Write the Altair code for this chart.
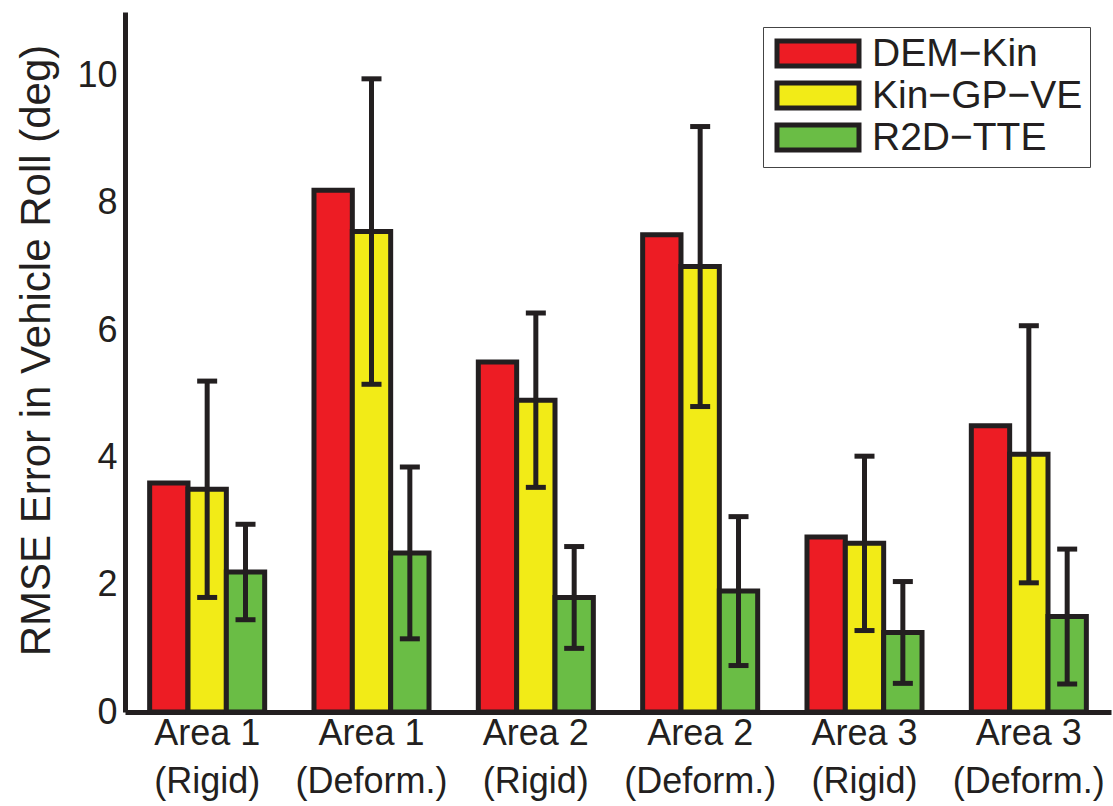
import altair as alt
import pandas as pd

# Terrain areas (two-line axis labels split on "|")
areas = [
    "Area 1|(Rigid)", "Area 1|(Deform.)",
    "Area 2|(Rigid)", "Area 2|(Deform.)",
    "Area 3|(Rigid)", "Area 3|(Deform.)",
]
methods = ["DEM−Kin", "Kin−GP−VE", "R2D−TTE"]
colors = ["#ED1C24", "#F2EB17", "#6ABD45"]

# RMSE of vehicle roll (deg) per method
dem_kin = [3.6, 8.2, 5.5, 7.5, 2.75, 4.5]
kin_gp_ve = [3.5, 7.55, 4.9, 7.0, 2.65, 4.05]
r2d_tte = [2.2, 2.5, 1.8, 1.9, 1.25, 1.5]

# Standard deviations (no error bar for DEM-Kin)
kin_gp_ve_err = [1.7, 2.4, 1.37, 2.2, 1.37, 2.02]
r2d_tte_err = [0.75, 1.35, 0.8, 1.17, 0.8, 1.06]

rows = []
for i, a in enumerate(areas):
    rows.append({"area": a, "method": methods[0], "rmse": dem_kin[i], "err": None})
    rows.append({"area": a, "method": methods[1], "rmse": kin_gp_ve[i], "err": kin_gp_ve_err[i]})
    rows.append({"area": a, "method": methods[2], "rmse": r2d_tte[i], "err": r2d_tte_err[i]})
df = pd.DataFrame(rows)

FONT = "Liberation Sans"
INK = "#231F20"

x_enc = alt.X(
    "area:N",
    sort=areas,
    scale=alt.Scale(paddingInner=0.3, paddingOuter=0.15),
    axis=alt.Axis(
        title=None,
        labelExpr="split(datum.value, '|')",
        labelAngle=0,
        labelFontSize=36,
        labelLineHeight=48,
        labelPadding=4,
        ticks=False,
        domainWidth=5,
        domainColor=INK,
        labelColor=INK,
        labelFont=FONT,
    ),
)
xoff = alt.XOffset("method:N", sort=methods, scale=alt.Scale(paddingInner=0, paddingOuter=0))

bars = alt.Chart(df).mark_bar(stroke=INK, strokeWidth=5, strokeJoin="miter").encode(
    x=x_enc,
    xOffset=xoff,
    y=alt.Y(
        "rmse:Q",
        scale=alt.Scale(domain=[0, 11], nice=False),
        axis=alt.Axis(
            title="RMSE Error in Vehicle Roll (deg)",
            values=[0, 2, 4, 6, 8, 10],
            format="d",
            grid=False,
            ticks=False,
            domainWidth=5,
            domainColor=INK,
            labelFontSize=36,
            labelPadding=8,
            labelColor=INK,
            labelFont=FONT,
            titleFont=FONT,
            titleFontSize=42,
            titleFontWeight="normal",
            titleColor=INK,
            titlePadding=18,
            titleY=338,
        ),
    ),
    color=alt.Color(
        "method:N",
        sort=methods,
        scale=alt.Scale(domain=methods, range=colors),
        legend=alt.Legend(
            title=None,
            orient="none",
            legendX=638,
            legendY=15,
            symbolType="M-1,-1H5.56V1H-1Z",
            symbolSize=625,
            symbolStrokeColor=INK,
            symbolStrokeWidth=5,
            symbolOpacity=1,
            labelFont=FONT,
            labelFontSize=39,
            labelColor=INK,
            labelOffset=63,
            labelLimit=400,
            rowPadding=-15,
            padding=7,
            strokeColor="#444444",
            fillColor="white",
        ),
    ),
)

err_df = df.dropna(subset=["err"]).copy()
err_df["lo"] = err_df["rmse"] - err_df["err"]
err_df["hi"] = err_df["rmse"] + err_df["err"]

err_base = alt.Chart(err_df).encode(x=alt.X("area:N", sort=areas), xOffset=xoff)
err_rule = err_base.mark_rule(color=INK, strokeWidth=5).encode(y="lo:Q", y2="hi:Q")
cap_hi = err_base.mark_tick(color=INK, size=20, thickness=5, opacity=1).encode(y="hi:Q")
cap_lo = err_base.mark_tick(color=INK, size=20, thickness=5, opacity=1).encode(y="lo:Q")

chart = (
    alt.layer(bars, err_rule, cap_hi, cap_lo)
    .properties(
        width=986,
        height=700,
        padding={"left": 125, "top": 12, "right": 2, "bottom": 94},
        autosize=alt.AutoSizeParams(type="none"),
        background="white",
    )
    .configure_view(stroke=None)
)

chart.save("out.html", embed_options={"renderer": "svg", "actions": False})
